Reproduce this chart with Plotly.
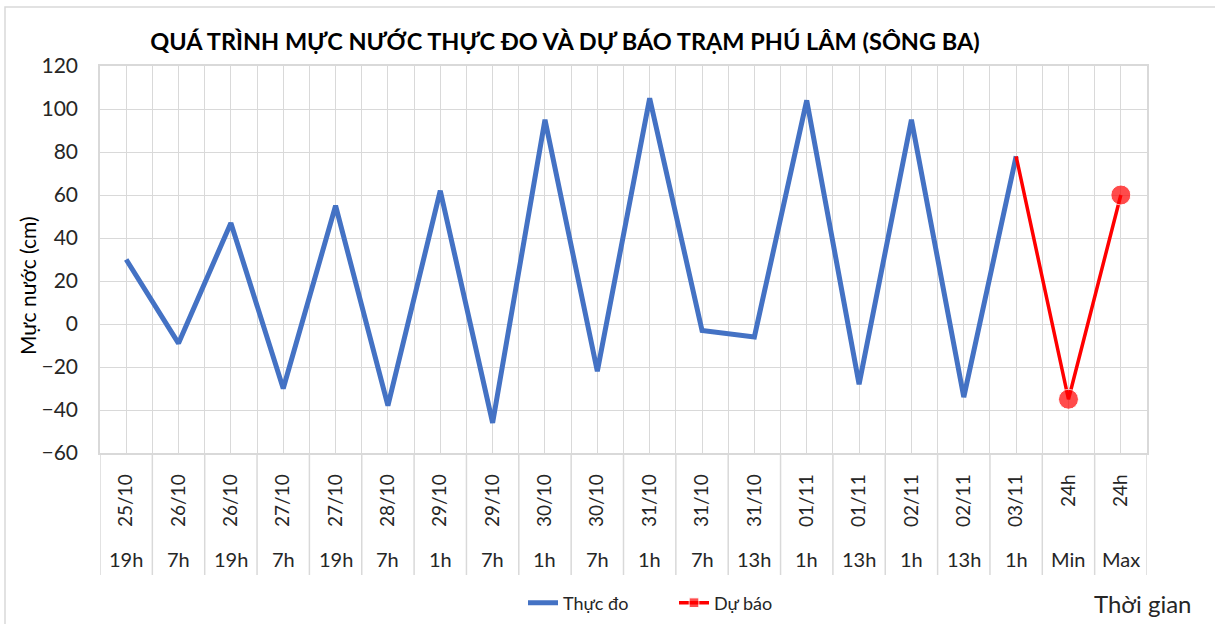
import plotly.graph_objects as go

# ---- data ----
dates = ["25/10", "26/10", "26/10", "27/10", "27/10", "28/10", "29/10", "29/10",
         "30/10", "30/10", "31/10", "31/10", "31/10", "01/11", "01/11", "02/11",
         "02/11", "03/11", "24h", "24h"]
hours = ["19h", "7h", "19h", "7h", "19h", "7h", "1h", "7h", "1h", "7h", "1h", "7h",
         "13h", "1h", "13h", "1h", "13h", "1h", "Min", "Max"]
observed = [30, -9, 47, -30, 55, -38, 62, -46, 95, -22, 105, -3, -6, 104, -28, 95,
            -34, 78, None, None]
forecast = [None] * 17 + [78, -35, 60]

W, H = 1215, 624
L, R, T, B = 100, 68, 66, 171
PH = H - T - B
PW = W - L - R

idx = list(range(len(dates)))
FONT = "Lato"
TXT = "#262626"

# marker styling for the forecast series (first point sets the legend symbol)
f_sizes = [9 if v is None else 0 for v in forecast]
f_sizes[-2:] = [20, 20]
f_symbols = ["square"] + ["circle"] * (len(forecast) - 1)

fig = go.Figure()
fig.add_trace(go.Scatter(
    x=idx, y=observed, mode="lines", name="Thực đo",
    line=dict(color="#4472C4", width=5), connectgaps=False,
))
fig.add_trace(go.Scatter(
    x=idx, y=forecast, mode="lines+markers", name="Dự báo",
    line=dict(color="#FF0000", width=3.5),
    marker=dict(color="#FF0000", size=f_sizes, symbol=f_symbols),
    connectgaps=False,
))

grid = "#D9D9D9"
shapes = []
# category dividers below the plot
for i in range(len(dates) + 1):
    shapes.append(dict(type="line", xref="x", yref="paper",
                       x0=i - 0.5, x1=i - 0.5, y0=0, y1=-(575 - 453) / PH,
                       line=dict(color=grid, width=1.5)))
# outer chart border
shapes.append(dict(type="rect", xref="paper", yref="paper",
                   x0=(5 - L) / PW, x1=(1240 - L) / PW,
                   y0=(H - B - 660) / PH, y1=(H - B - 7) / PH,
                   line=dict(color="#D9D9D9", width=1.5), layer="below"))

annotations = []
for i, h in enumerate(hours):
    annotations.append(dict(x=i, y=-(559 - 453) / PH, xref="x", yref="paper",
                            text=h, showarrow=False, yanchor="middle",
                            font=dict(family=FONT, size=20, color=TXT)))
annotations.append(dict(x=(1143 - L) / PW, y=(453 - 603) / PH, xref="paper", yref="paper",
                        text="Thời gian", showarrow=False, xanchor="center", yanchor="middle",
                        font=dict(family=FONT, size=24, color=TXT)))
annotations.append(dict(x=(27 - L) / PW, y=(453 - 286) / PH, xref="paper", yref="paper",
                        text="Mực nước (cm)", showarrow=False, textangle=-90,
                        xanchor="center", yanchor="middle",
                        font=dict(family=FONT, size=21, color="#000000")))

fig.update_layout(
    width=W, height=H,
    margin=dict(l=L, r=R, t=T, b=B, autoexpand=False),
    paper_bgcolor="white", plot_bgcolor="white",
    font=dict(family=FONT, color=TXT),
    title=dict(text="<b>QUÁ TRÌNH MỰC NƯỚC THỰC ĐO VÀ DỰ BÁO TRẠM PHÚ LÂM (SÔNG BA)</b>",
               x=565 / W, xanchor="center", y=1 - 42 / H, yanchor="middle",
               font=dict(family=FONT, size=23.5, color="#000000")),
    xaxis=dict(
        range=[-0.5, len(dates) - 0.5],
        tickmode="array", tickvals=idx, ticktext=dates, tickangle=-90,
        tickfont=dict(family=FONT, size=19, color=TXT),
        showgrid=True, gridcolor=grid, gridwidth=1,
        minor=dict(tickmode="array", tickvals=[i - 0.5 for i in range(len(dates) + 1)],
                   showgrid=True, gridcolor=grid, gridwidth=1, ticks=""),
        ticks="", ticklabelstandoff=12,
        showline=True, linecolor=grid, linewidth=1.5, mirror=True,
        zeroline=False, fixedrange=True, automargin=False,
    ),
    yaxis=dict(
        range=[-60, 120], dtick=20, tick0=0,
        tickfont=dict(family=FONT, size=21, color=TXT),
        showgrid=True, gridcolor=grid, gridwidth=1,
        zeroline=False, ticks="", ticklabelstandoff=16,
        showline=True, linecolor=grid, linewidth=1.5, mirror=True,
        automargin=False, fixedrange=True,
    ),
    legend=dict(orientation="h", x=(523 - L) / PW, xanchor="left",
                y=(453 - 603) / PH, yanchor="middle",
                entrywidth=106, entrywidthmode="pixels",
                font=dict(family=FONT, size=18, color=TXT),
                bgcolor="rgba(0,0,0,0)", tracegroupgap=0),
    shapes=shapes,
    annotations=annotations,
    showlegend=True,
)

fig.write_html("out.html", config={"displayModeBar": False},
               post_script="document.body.style.margin='0px';")
